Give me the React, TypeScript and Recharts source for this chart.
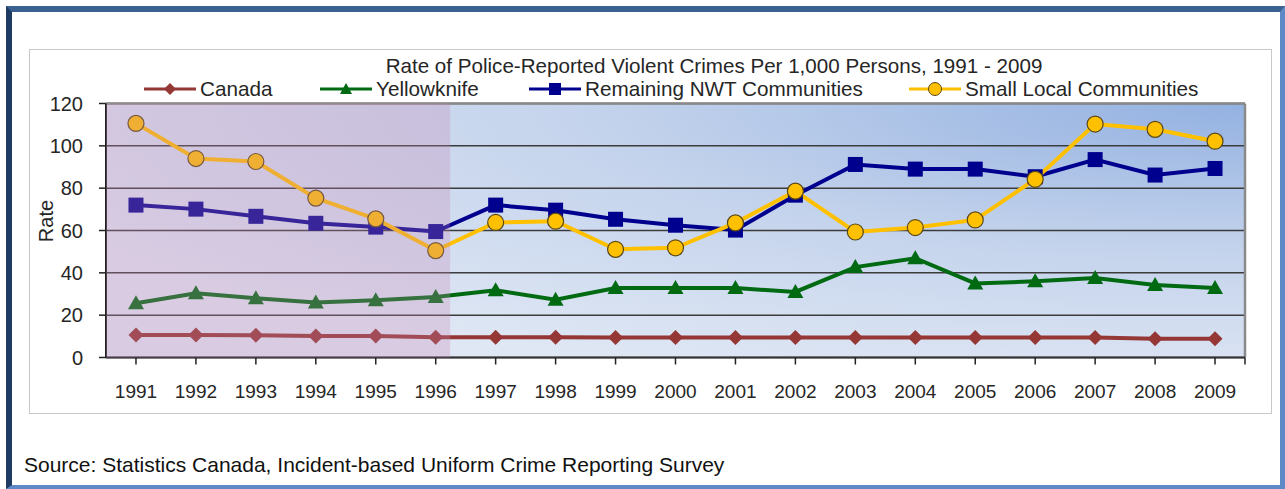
import React from 'react';
import { LineChart, Line, XAxis, YAxis, CartesianGrid, ReferenceArea, ReferenceLine } from 'recharts';

const years = [1991, 1992, 1993, 1994, 1995, 1996, 1997, 1998, 1999, 2000, 2001, 2002, 2003, 2004, 2005, 2006, 2007, 2008, 2009];
const canada = [10.6, 10.6, 10.5, 10.1, 10.1, 9.6, 9.6, 9.6, 9.5, 9.5, 9.5, 9.5, 9.4, 9.4, 9.4, 9.5, 9.4, 8.9, 8.9];
const yellowknife = [25.6, 30.3, 28.0, 26.0, 27.0, 28.6, 31.8, 27.3, 32.8, 32.8, 32.8, 31.0, 42.7, 46.9, 35.0, 36.0, 37.6, 34.3, 32.8];
const nwt = [72.0, 70.1, 66.7, 63.4, 61.6, 59.5, 72.0, 69.6, 65.3, 62.5, 60.2, 76.7, 91.2, 89.0, 89.0, 85.4, 93.5, 86.2, 89.3];
const small = [110.6, 94.0, 92.6, 75.3, 65.5, 50.5, 63.8, 64.4, 51.1, 51.8, 63.6, 78.6, 59.3, 61.4, 65.0, 84.2, 110.3, 107.8, 102.2];
const yTicks = [0, 20, 40, 60, 80, 100, 120];
const title = 'Rate of Police-Reported Violent Crimes Per 1,000 Persons, 1991 - 2009';
const source = 'Source: Statistics Canada, Incident-based Uniform Crime Reporting Survey';
const shadeEnd = 1996.24;

const COLORS = { canada: '#953735', yk: '#006a12', nwt: '#00008f', small: '#ffc000' };
const FONT = '"Liberation Sans", Arial, sans-serif';

const data = years.map((y, i) => ({ year: y, canada: canada[i], yk: yellowknife[i], nwt: nwt[i], small: small[i] }));

const Diamond = (p: any) => {
  const { cx, cy } = p;
  if (cx == null || cy == null) return null;
  const s = 7.5;
  return <path key={p.key} d={`M${cx},${cy - s}L${cx + s},${cy}L${cx},${cy + s}L${cx - s},${cy}Z`} fill={COLORS.canada} />;
};
const Tri = (p: any) => {
  const { cx, cy } = p;
  if (cx == null || cy == null) return null;
  return <path key={p.key} d={`M${cx},${cy - 8}L${cx + 8},${cy + 6}L${cx - 8},${cy + 6}Z`} fill={COLORS.yk} />;
};
const Sq = (p: any) => {
  const { cx, cy } = p;
  if (cx == null || cy == null) return null;
  return <rect key={p.key} x={cx - 7.5} y={cy - 7.5} width={15} height={15} fill={COLORS.nwt} />;
};
const Circ = (p: any) => {
  const { cx, cy } = p;
  if (cx == null || cy == null) return null;
  return <circle key={p.key} cx={cx} cy={cy} r={8} fill={COLORS.small} stroke="#5a4818" strokeWidth={1.2} />;
};

const legendItems = [
  { name: 'Canada', color: COLORS.canada, shape: 'diamond', left: 144 },
  { name: 'Yellowknife', color: COLORS.yk, shape: 'tri', left: 320 },
  { name: 'Remaining NWT Communities', color: COLORS.nwt, shape: 'sq', left: 529 },
  { name: 'Small Local Communities', color: COLORS.small, shape: 'circ', left: 909 },
];

const LegendIcon = ({ color, shape }: { color: string; shape: string }) => (
  <svg width={52} height={20} style={{ display: 'block' }}>
    <line x1={0} y1={10} x2={52} y2={10} stroke={color} strokeWidth={3} />
    {shape === 'diamond' && <path d="M26,4L32,10L26,16L20,10Z" fill={color} />}
    {shape === 'tri' && <path d="M26,4L32,15L20,15Z" fill={color} />}
    {shape === 'sq' && <rect x={20} y={4} width={12} height={12} fill={color} />}
    {shape === 'circ' && <circle cx={26} cy={10} r={6.5} fill={color} stroke="#5a4818" strokeWidth={1} />}
  </svg>
);

export default function App() {
  return (
    <div style={{ position: 'absolute', left: 0, top: 0, width: 1285, height: 489, background: '#fff', fontFamily: FONT, overflow: 'hidden' }}>
      <div style={{ position: 'absolute', left: 6, top: 6, width: 1279, height: 483, boxSizing: 'border-box', borderTop: '6px solid #3b6190', borderLeft: '6px solid #1f3b63', borderRight: '5px solid #5d8ac6', borderBottom: '4px solid #5d8ac6' }} />
      <div style={{ position: 'absolute', left: 29, top: 49, width: 1243, height: 365, boxSizing: 'border-box', border: '1px solid #c8c8c8' }} />
      <div style={{ position: 'absolute', left: 314, width: 800, top: 55, height: 22, lineHeight: '22px', textAlign: 'center', fontSize: 20.6, color: '#262626' }}>{title}</div>
      {legendItems.map((it) => (
        <div key={it.name} style={{ position: 'absolute', left: it.left, top: 78, height: 22, display: 'flex', alignItems: 'center', fontSize: 20.7, color: '#262626' }}>
          <LegendIcon color={it.color} shape={it.shape} />
          <span style={{ marginLeft: 4, lineHeight: '22px', whiteSpace: 'nowrap' }}>{it.name}</span>
        </div>
      ))}
      <div style={{ position: 'absolute', left: 46, top: 221, width: 0, height: 0 }}>
        <div style={{ position: 'absolute', transform: 'translate(-50%, -50%) rotate(-90deg)', fontSize: 20, color: '#262626', whiteSpace: 'nowrap', lineHeight: '22px' }}>Rate</div>
      </div>
      <div style={{ position: 'absolute', left: 24, top: 454, fontSize: 21, lineHeight: '22px', color: '#111', whiteSpace: 'nowrap' }}>{source}</div>
      <div style={{ position: 'absolute', left: 0, top: 0 }}>
        <LineChart width={1285} height={489} data={data} margin={{ top: 103.5, right: 40, bottom: 91.5, left: 46 }}>
          <defs>
            <radialGradient id="plotBg" cx="1" cy="0" r="1.15" fx="1" fy="0">
              <stop offset="0" stopColor="#93b1e1" />
              <stop offset="0.5" stopColor="#c4d3ec" />
              <stop offset="1" stopColor="#dfe7f4" />
            </radialGradient>
          </defs>
          <CartesianGrid vertical={false} stroke="#3c3c3c" strokeWidth={1.5} fill="url(#plotBg)" fillOpacity={1} />
          <XAxis
            dataKey="year"
            type="number"
            domain={[1990.5, 2009.5]}
            ticks={[...years, 2009.5]}
            tickFormatter={(v: number) => (Number.isInteger(v) ? String(v) : '')}
            interval={0}
            height={40}
            tickSize={7}
            tickMargin={20}
            axisLine={{ stroke: '#333', strokeWidth: 2 }}
            tickLine={{ stroke: '#222', strokeWidth: 1.5 }}
            tick={{ fill: '#262626', fontSize: 19, fontFamily: FONT }}
          />
          <YAxis
            domain={[0, 120]}
            ticks={yTicks}
            interval={0}
            width={60}
            tickSize={7}
            tickMargin={16}
            axisLine={{ stroke: '#222', strokeWidth: 2 }}
            tickLine={{ stroke: '#222', strokeWidth: 1.5 }}
            tick={{ fill: '#262626', fontSize: 20, fontFamily: FONT }}
          />
          <ReferenceLine y={120} stroke="#8a8a8a" strokeWidth={2.5} />
          <ReferenceLine x={2009.5} stroke="#8a8a8a" strokeWidth={2.5} />
          <Line dataKey="canada" stroke={COLORS.canada} strokeWidth={4} dot={Diamond} activeDot={false} isAnimationActive={false} />
          <Line dataKey="yk" stroke={COLORS.yk} strokeWidth={4} dot={Tri} activeDot={false} isAnimationActive={false} />
          <Line dataKey="nwt" stroke={COLORS.nwt} strokeWidth={4} dot={Sq} activeDot={false} isAnimationActive={false} />
          <Line dataKey="small" stroke={COLORS.small} strokeWidth={4} dot={Circ} activeDot={false} isAnimationActive={false} />
          <ReferenceArea x1={1990.5} x2={shadeEnd} y1={0} y2={120} fill="#c684b4" fillOpacity={0.28} stroke="none" zIndex={2000} />
        </LineChart>
      </div>
    </div>
  );
}
